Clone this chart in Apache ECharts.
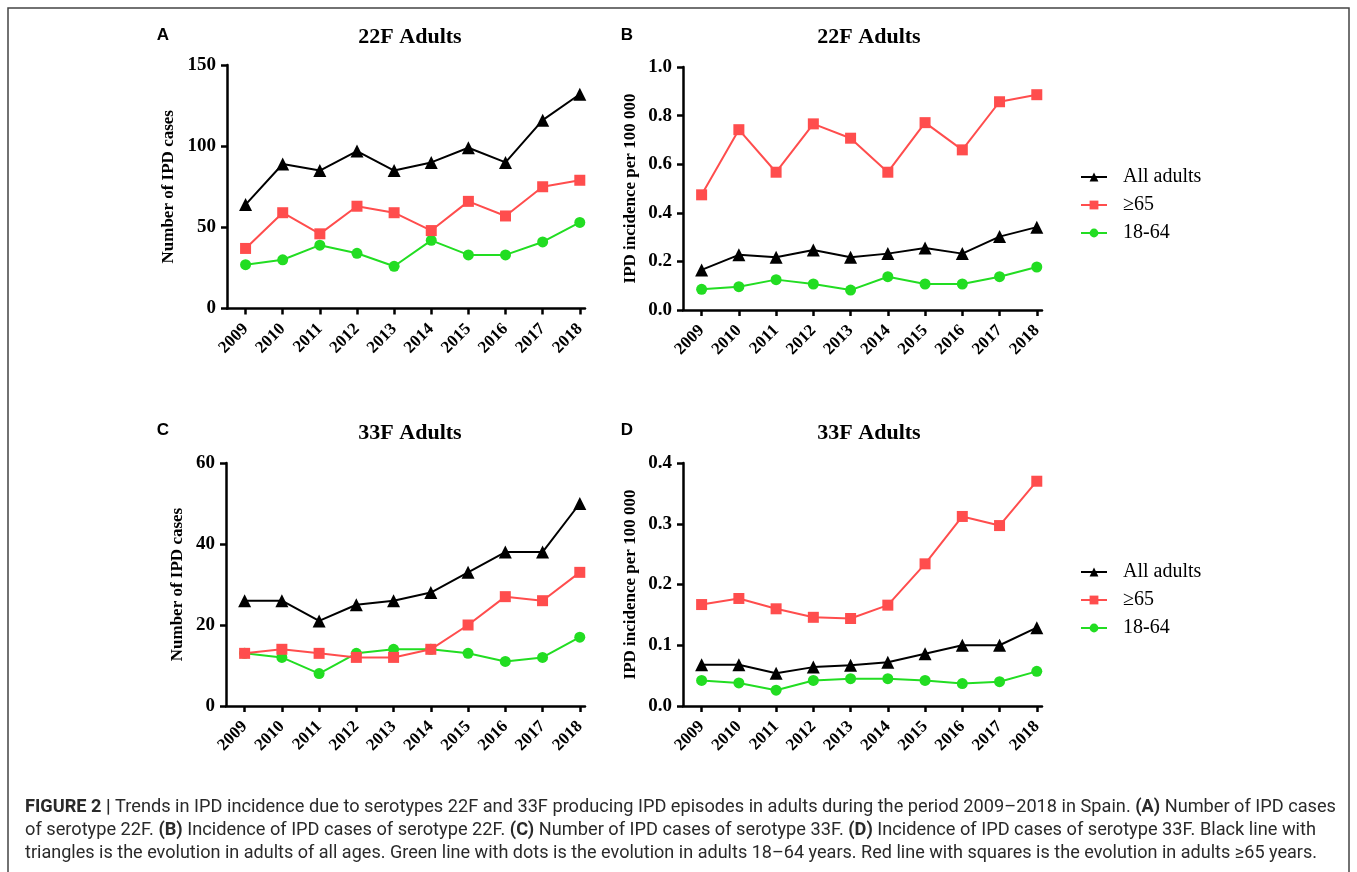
<!DOCTYPE html>
<html><head><meta charset="utf-8">
<script src="https://cdn.jsdelivr.net/npm/echarts@6/dist/echarts.min.js"></script>
<style>html,body{margin:0;padding:0;background:#fff}#c{width:1357px;height:872px}</style>
</head><body><div id="c"></div><script>
// ---- data ----
const years = [2009, 2010, 2011, 2012, 2013, 2014, 2015, 2016, 2017, 2018];
const seriesNames = ['All adults', '\u226565', '18-64'];
// Panel A: number of IPD cases, serotype 22F
const a_all  = [64, 89, 85, 97, 85, 90, 99, 90, 116, 132];
const a_65   = [37, 59, 46, 63, 59, 48, 66, 57, 75, 79];
const a_1864 = [27, 30, 39, 34, 26, 42, 33, 33, 41, 53];
// Panel B: IPD incidence per 100 000, serotype 22F
const b_all  = [0.165, 0.227, 0.217, 0.247, 0.217, 0.232, 0.255, 0.232, 0.302, 0.341];
const b_65   = [0.474, 0.742, 0.567, 0.766, 0.707, 0.567, 0.771, 0.659, 0.857, 0.886];
const b_1864 = [0.085, 0.096, 0.125, 0.107, 0.082, 0.137, 0.107, 0.107, 0.137, 0.177];
// Panel C: number of IPD cases, serotype 33F
const c_all  = [26, 26, 21, 25, 26, 28, 33, 38, 38, 50];
const c_65   = [13, 14, 13, 12, 12, 14, 20, 27, 26, 33];
const c_1864 = [13, 12, 8, 13, 14, 14, 13, 11, 12, 17];
// Panel D: IPD incidence per 100 000, serotype 33F
const d_all  = [0.068, 0.068, 0.054, 0.064, 0.067, 0.072, 0.086, 0.100, 0.100, 0.129];
const d_65   = [0.167, 0.177, 0.160, 0.146, 0.144, 0.166, 0.234, 0.312, 0.297, 0.370];
const d_1864 = [0.042, 0.038, 0.026, 0.042, 0.045, 0.045, 0.042, 0.037, 0.040, 0.057];
// axis ranges
const yMax = [150, 1.0, 60, 0.4];
const yStep = [50, 0.2, 20, 0.1];
const yDecimals = [0, 1, 0, 1];
const yNames = ['Number of IPD cases', 'IPD incidence per 100 000', 'Number of IPD cases', 'IPD incidence per 100 000'];
const titles = ['22F Adults', '22F Adults', '33F Adults', '33F Adults'];
const letters = ['A', 'B', 'C', 'D'];
const captionLines = [
  '{b|FIGURE 2 |} Trends in IPD incidence due to serotypes 22F and 33F producing IPD episodes in adults during the period 2009\u20132018 in Spain. {b|(A)} Number of IPD cases',
  'of serotype 22F. {b|(B)} Incidence of IPD cases of serotype 22F. {b|(C)} Number of IPD cases of serotype 33F. {b|(D)} Incidence of IPD cases of serotype 33F. Black line with',
  'triangles is the evolution in adults of all ages. Green line with dots is the evolution in adults 18\u201364 years. Red line with squares is the evolution in adults \u226565 years.'
];

// ---- layout ----
const grids = [
  {left: 227, top: 65, width: 358, height: 243.5},
  {left: 683, top: 67, width: 359, height: 243},
  {left: 226, top: 463, width: 359, height: 243},
  {left: 683, top: 463, width: 359, height: 243}
];
const nameGaps = [50, 44, 39.5, 44];
const serif = 'Liberation Serif';
const colors = ['#000000', '#ff4d4d', '#22dd22'];
const symbols = ['triangle', 'rect', 'circle'];
const symSizes = [13, 11, 11];
const panelData = [[a_all, a_65, a_1864], [b_all, b_65, b_1864], [c_all, c_65, c_1864], [d_all, d_65, d_1864]];

const xAxes = grids.map((g, i) => ({
  type: 'value', gridIndex: i, min: 2008.5, max: 2018.14,
  axisLine: {onZero: false, lineStyle: {color: '#000', width: 2.5}},
  axisTick: {show: true, length: 6, lineStyle: {color: '#000', width: 2.5}, customValues: years},
  axisLabel: {customValues: years, rotate: 45, margin: 18, formatter: v => String(Math.round(v)),
    fontFamily: serif, fontWeight: 'bold', fontSize: 17, color: '#000'},
  splitLine: {show: false}
}));
const yAxes = grids.map((g, i) => ({
  type: 'value', gridIndex: i, min: 0, max: yMax[i], interval: yStep[i],
  name: yNames[i], nameLocation: 'middle', nameGap: nameGaps[i],
  nameTextStyle: {fontFamily: serif, fontWeight: 'bold', fontSize: 17, color: '#000'},
  axisLine: {show: true, lineStyle: {color: '#000', width: 2.5}},
  axisTick: {show: true, length: 6, lineStyle: {color: '#000', width: 2.5}},
  axisLabel: {margin: 11, formatter: v => v.toFixed(yDecimals[i]),
    fontFamily: serif, fontWeight: 'bold', fontSize: 19, color: '#000'},
  splitLine: {show: false}
}));
const series = [];
panelData.forEach((arrs, p) => {
  arrs.forEach((arr, k) => {
    series.push({
      type: 'line', name: seriesNames[k], xAxisIndex: p, yAxisIndex: p,
      data: years.map((y, j) => [y, arr[j]]),
      symbol: symbols[k], symbolSize: symSizes[k], showSymbol: true,
      itemStyle: {color: colors[k]}, lineStyle: {color: colors[k], width: 2},
      z: 3 - k
    });
  });
});

// caption scaling
const mc = document.createElement('canvas').getContext('2d');
const capFont = 'Roboto';
const capSize = 18;
function measureLine(s) {
  let w = 0;
  const re = /\{b\|([^}]*)\}/g;
  let last = 0, m;
  while ((m = re.exec(s))) {
    mc.font = capSize + 'px ' + capFont;
    w += mc.measureText(s.slice(last, m.index)).width;
    mc.font = 'bold ' + capSize + 'px ' + capFont;
    w += mc.measureText(m[1]).width;
    last = re.lastIndex;
  }
  mc.font = capSize + 'px ' + capFont;
  w += mc.measureText(s.slice(last)).width;
  return w;
}
const capTargets = [1311, 1291, 1292];
const capY = [807, 830, 853];
const graphics = [
  {type: 'rect', shape: {x: 8, y: 8, width: 1341, height: 900}, style: {fill: null, stroke: '#444', lineWidth: 1.5}, silent: true}
];
const letterPos = [[163, 35], [627, 35], [163, 430], [627, 430]];
const titlePos = [[410, 37], [869, 37], [410, 433], [869, 433]];
letters.forEach((L, i) => {
  graphics.push({type: 'text', x: letterPos[i][0], y: letterPos[i][1],
    style: {text: L, fontFamily: 'Liberation Sans', fontWeight: 'bold', fontSize: 17, fill: '#000', align: 'center', verticalAlign: 'middle'}});
  graphics.push({type: 'text', x: titlePos[i][0], y: titlePos[i][1],
    style: {text: titles[i], fontFamily: serif, fontWeight: 'bold', fontSize: 22, fill: '#000', align: 'center', verticalAlign: 'middle'}});
});
captionLines.forEach((s, i) => {
  const w = measureLine(s);
  graphics.push({type: 'text', x: 25, y: capY[i], scaleX: capTargets[i] / w, originX: 0,
    style: {text: s, fontFamily: capFont, fontSize: capSize, fill: '#2a2a2a', align: 'left', verticalAlign: 'middle',
      rich: {b: {fontFamily: capFont, fontSize: capSize, fontWeight: 'bold', fill: '#2a2a2a'}}}});
});

const legendBase = {
  orient: 'vertical', itemWidth: 26, itemHeight: 11, itemGap: 8, padding: 0,
  textStyle: {fontFamily: serif, fontSize: 20, color: '#000', padding: [0, 0, 0, 11]},
  data: seriesNames
};
const chart = echarts.init(document.getElementById('c'), null, {renderer: 'canvas'});
chart.setOption({
  backgroundColor: '#fff',
  animation: false,
  grid: grids,
  xAxis: xAxes,
  yAxis: yAxes,
  legend: [Object.assign({left: 1080, top: 167}, legendBase), Object.assign({left: 1080, top: 562}, legendBase)],
  series: series,
  graphic: graphics
});
</script></body></html>
